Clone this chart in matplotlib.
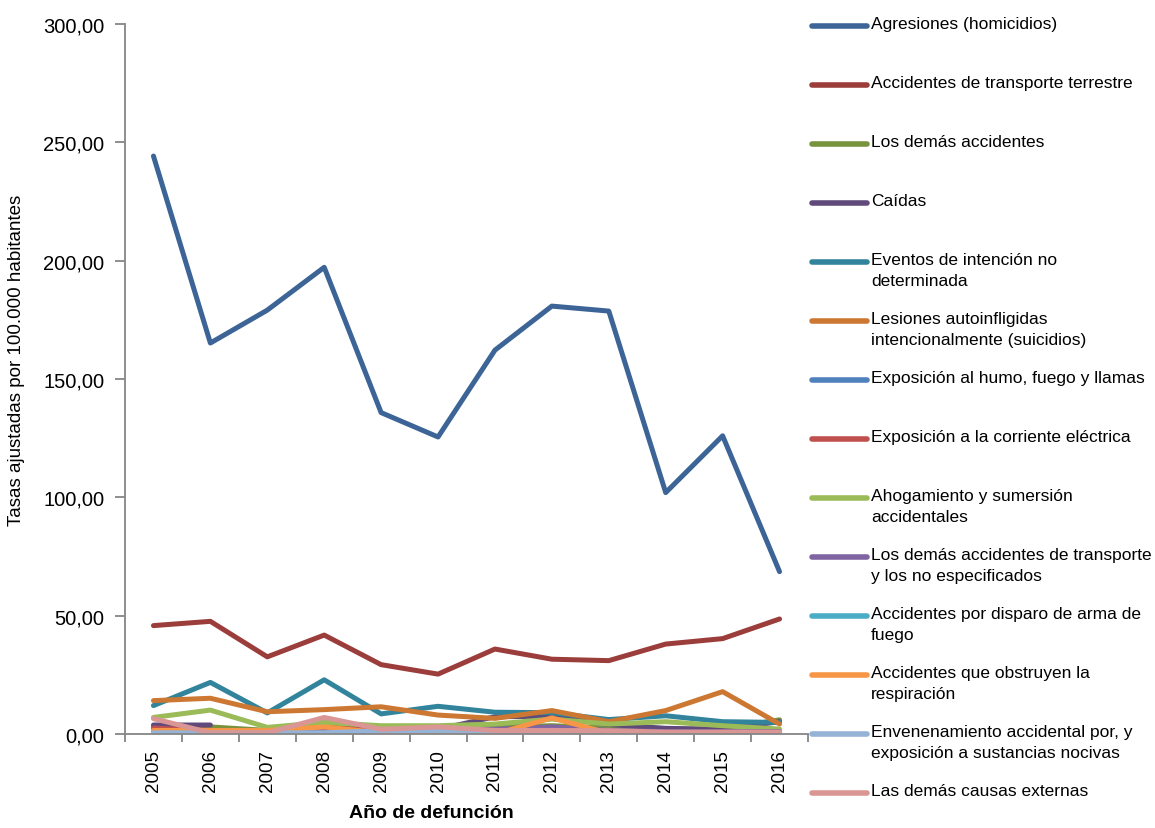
"""Tasas ajustadas de mortalidad por causas externas, 2005-2016."""
import numpy as np
import matplotlib

matplotlib.use("Agg")
import matplotlib.pyplot as plt  # noqa: E402
from matplotlib.lines import Line2D  # noqa: E402
from matplotlib.ticker import FuncFormatter, FixedLocator  # noqa: E402

FUENTE = ["Liberation Sans", "DejaVu Sans"]

anios = ["2005", "2006", "2007", "2008", "2009", "2010",
         "2011", "2012", "2013", "2014", "2015", "2016"]

agresiones = [244.2, 165.2, 179.1, 197.2, 135.8, 125.5, 162.2, 180.8, 178.7, 102.0, 126.0, 68.6]
transporte = [45.8, 47.6, 32.6, 41.8, 29.3, 25.3, 35.9, 31.6, 31.0, 38.0, 40.3, 48.6]
demas_accidentes = [3.0, 3.0, 1.5, 3.5, 2.5, 2.5, 3.0, 3.5, 2.5, 2.0, 2.0, 6.0]
caidas = [3.8, 3.8, np.nan, np.nan, np.nan, 2.0, 7.3, 7.5, 4.0, 2.4, 2.0, 5.2]
eventos = [12.0, 21.8, 8.9, 22.9, 8.5, 11.7, 9.2, 9.0, 6.1, 7.7, 5.2, 4.9]
suicidios = [14.1, 15.1, 9.4, 10.3, 11.5, 8.0, 6.6, 9.9, 5.2, 9.9, 17.9, 4.2]
humo = [0.5, 0.5, 0.4, 0.5, 0.4, 0.4, 0.5, 0.5, 0.4, 0.4, 0.4, 0.4]
corriente = [2.5, 1.5, 1.5, 3.0, 1.5, 1.0, 1.0, 1.5, 1.0, 0.8, 0.8, 0.8]
ahogamiento = [7.0, 10.1, 2.8, 4.9, 3.5, 3.5, 4.2, 6.3, 4.2, 5.2, 3.5, 2.1]
demas_transporte = [1.0, 1.0, 0.5, 1.0, 0.8, 1.5, 2.0, 3.0, 1.5, 1.0, 1.0, 1.0]
disparo = [0.3, 0.3, 0.2, 0.3, 0.2, 0.2, 0.0, 0.5, 0.0, 0.2, 0.2, 0.2]
obstruyen = [1.5, 1.5, 1.5, 3.0, 0.5, 0.0, 0.0, 6.8, 0.3, 0.0, 0.0, 0.0]
envenenamiento = [0.5, 0.5, 0.5, 0.5, 1.4, 1.5, 1.0, 1.0, 0.8, 0.5, 0.5, 0.5]
demas_causas = [6.5, 0.5, 0.5, 7.0, 2.0, 3.0, 1.5, 1.5, 1.4, 0.8, 0.8, 0.8]

series = [
    ("Agresiones (homicidios)", agresiones, "#3C6496"),
    ("Accidentes de transporte terrestre", transporte, "#9B3D3A"),
    ("Los demás accidentes", demas_accidentes, "#77933C"),
    ("Caídas", caidas, "#604A7B"),
    ("Eventos de intención no\ndeterminada", eventos, "#31849B"),
    ("Lesiones autoinfligidas\nintencionalmente (suicidios)", suicidios, "#CC7832"),
    ("Exposición al humo, fuego y llamas", humo, "#4F81BD"),
    ("Exposición a la corriente eléctrica", corriente, "#C0504D"),
    ("Ahogamiento y sumersión\naccidentales", ahogamiento, "#9BBB59"),
    ("Los demás accidentes de transporte\ny los no especificados", demas_transporte, "#8064A2"),
    ("Accidentes por disparo de arma de\nfuego", disparo, "#4BACC6"),
    ("Accidentes que obstruyen la\nrespiración", obstruyen, "#F79646"),
    ("Envenenamiento accidental por, y\nexposición a sustancias nocivas", envenenamiento, "#95B3D7"),
    ("Las demás causas externas", demas_causas, "#D99694"),
]

W, H = 1155, 829
fig = plt.figure(figsize=(W / 100, H / 100), dpi=100)
ax = fig.add_axes([125 / W, (H - 735) / H, 683 / W, 710 / H])

x = np.arange(len(anios))
for nombre, vals, color in series:
    ax.plot(x, vals, color=color, lw=3.6, solid_capstyle="round",
            solid_joinstyle="round")

ax.set_xlim(-0.5, len(anios) - 0.5)
ax.set_ylim(0, 300)
ax.set_yticks(np.arange(0, 301, 50))
ax.yaxis.set_major_formatter(FuncFormatter(lambda v, _: f"{v:.2f}".replace(".", ",")))

# categorías al centro, marcas de graduación entre categorías
ax.xaxis.set_major_locator(FixedLocator(np.arange(-0.5, len(anios), 1.0)))
ax.set_xticklabels([])
ax.set_xticks(x, minor=True)
ax.set_xticklabels(anios, minor=True, rotation=90, family=FUENTE, fontsize=13.5)
ax.tick_params(axis="x", which="minor", length=0, pad=11)
ax.tick_params(axis="x", which="major", length=6, color="#868686", width=1.3)
ax.tick_params(axis="y", length=7, color="#868686", width=1.3, pad=8)
for lab in ax.get_yticklabels():
    lab.set_family(FUENTE)
    lab.set_fontsize(14.5)

for s in ("top", "right"):
    ax.spines[s].set_visible(False)
for s in ("left", "bottom"):
    ax.spines[s].set_color("#868686")
    ax.spines[s].set_linewidth(1.3)

ax.set_ylabel("Tasas ajustadas por 100.000 habitantes", family=FUENTE, fontsize=13.5)
ax.yaxis.set_label_coords(-100 / 683, 0.527)
ax.set_xlabel("Año de defunción", family=FUENTE, fontsize=14, weight="bold")
ax.xaxis.set_label_coords(0.448, -70 / 710)

# Leyenda manual: separación constante, línea alineada con la primera línea de texto
for i, (nombre, vals, color) in enumerate(series):
    yp = 27 + 59 * i
    fig.add_artist(Line2D([812 / W, 867 / W], [1 - yp / H, 1 - yp / H],
                          color=color, lw=4, solid_capstyle="round"))
    fig.text(871 / W, 1 - (yp - 10) / H, nombre, family=FUENTE, fontsize=12.5,
             va="top", ha="left", linespacing=1.52)

fig.savefig("out.png", dpi=100, facecolor="white")
